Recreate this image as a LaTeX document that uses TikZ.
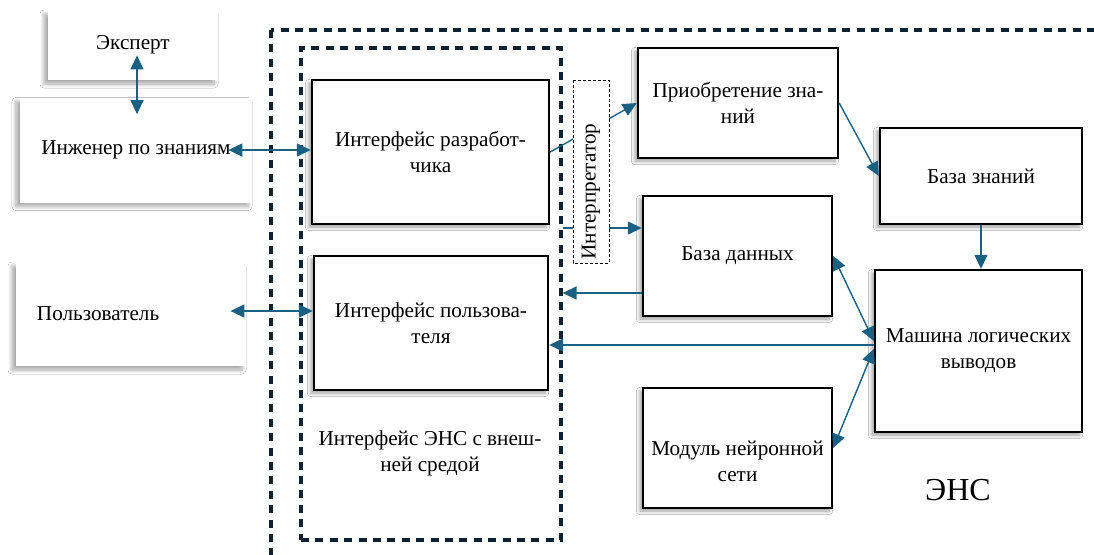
\documentclass[tikz,border=0pt]{standalone}
\usepackage{fontspec}
\setmainfont{LiberationSerif}[Extension=.ttf, UprightFont=*-Regular, BoldFont=*-Bold]
\usetikzlibrary{arrows.meta, positioning, calc, shadows.blur}
\definecolor{arrowblue}{RGB}{26,96,130}
\definecolor{dashnavy}{RGB}{12,34,50}

\begin{document}
\begin{tikzpicture}[x=0.5pt, y=-0.5pt,
    font=\fontsize{10.6}{13}\selectfont,
    block/.style={rectangle, draw=black, line width=1.2pt, fill=white, align=center, inner sep=2pt, blur shadow={shadow xshift=-1.5pt, shadow yshift=-1.5pt, shadow blur steps=6, shadow opacity=40}},
    actor/.style={rectangle, fill=white, align=center, inner sep=2pt, blur shadow={shadow xshift=-2pt, shadow yshift=-2pt, shadow blur steps=8, shadow blur radius=2pt, shadow opacity=35}},
    frame/.style={rectangle, draw=dashnavy, line width=1.6pt, dash pattern=on 4pt off 3.2pt},
    arrow/.style={-{Triangle[length=7pt, width=6.5pt]}, draw=arrowblue, line width=0.7pt},
    biarrow/.style={{Triangle[length=7pt, width=6.5pt]}-{Triangle[length=7pt, width=6.5pt]}, draw=arrowblue, line width=0.7pt}
]
    \clip (0,0) rectangle (1094,554);
    \fill[white] (0,0) rectangle (1094,554);

    % outer frame (ENS)
    \draw[frame] (271,30) rectangle (1110,575);
    \node[frame, minimum width=130pt, minimum height=246pt] (ifbox) at (431,294) {};

    \node[actor, minimum width=85pt, minimum height=35pt] (expert) at (133,45) {Эксперт};
    \node[actor, minimum width=116pt, minimum height=52.5pt] (engineer) at (136,150) {Инженер по знаниям};
    \node[actor, text width=94pt, inner xsep=10.5pt, minimum height=52pt, align=left] (user) at (131,314) {Пользователь};

    \node[block, minimum width=118.5pt, minimum height=72pt] (devif) at (430.5,152) {Интерфейс разработ-\\чика};
    \node[block, minimum width=117pt, minimum height=67pt] (userif) at (431,323) {Интерфейс пользова-\\теля};
    \node[align=center] (ifname) at (430,453) {Интерфейс ЭНС с внеш-\\ней средой};

    \node[block, minimum width=100pt, minimum height=55pt] (acq) at (738,103) {Приобретение зна-\\ний};
    \node[block, minimum width=101pt, minimum height=48pt] (kb) at (981,176) {База знаний};
    \node[block, minimum width=94.5pt, minimum height=60pt] (db) at (737.5,256) {База данных};
    \node[block, minimum width=103.5pt, minimum height=81pt] (inf) at (978.5,351) {Машина логических\\выводов};
    \node[block, minimum width=94.5pt, minimum height=60pt] (nn) at (737.5,448) {};
    \node[align=center] (nntext) at ([yshift=-6.5pt]nn.center) {Модуль нейронной\\сети};
    \node[font=\fontsize{16}{19}\selectfont] (ens) at (958,490) {ЭНС};

    \draw[biarrow] ($(expert.south)+(4,-25)$) -- ($(engineer.north)+(1,17)$);
    \draw[biarrow] ([xshift=-12pt]engineer.east) -- (engineer.east -| devif.west);
    \draw[biarrow] ([xshift=-8pt, yshift=1.5pt]user.east) -- ([yshift=1.5pt]user.east -| userif.west);
    \draw[arrow] (devif.east) -- (acq.west);
    \draw[arrow] ([yshift=14pt]db.west -| ifbox.east) -- ([yshift=14pt]db.west);
    \draw[arrow] ([yshift=-18.5pt]db.west) -- ([yshift=-18.5pt]db.west -| ifbox.east);
    \draw[arrow] ([yshift=3pt]inf.west) -- ([yshift=3pt]inf.west -| userif.east);
    \draw[arrow] (acq.east) -- (kb.west);
    \draw[arrow] (kb.south) -- (kb.south |- inf.north);
    \draw[biarrow] (db.east) -- ([yshift=5pt]inf.west);
    \draw[biarrow] (nn.east) -- ([yshift=1pt]inf.west);

    % interpreter on top of the lines
    \node[draw, dash pattern=on 1.5pt off 1pt, line width=0.5pt, fill=white, rotate=90, minimum width=91.5pt, minimum height=18pt, text width=88pt, inner xsep=1.5pt, align=left] (interp) at (591,171.5) {Интерпретатор};
\end{tikzpicture}
\end{document}
